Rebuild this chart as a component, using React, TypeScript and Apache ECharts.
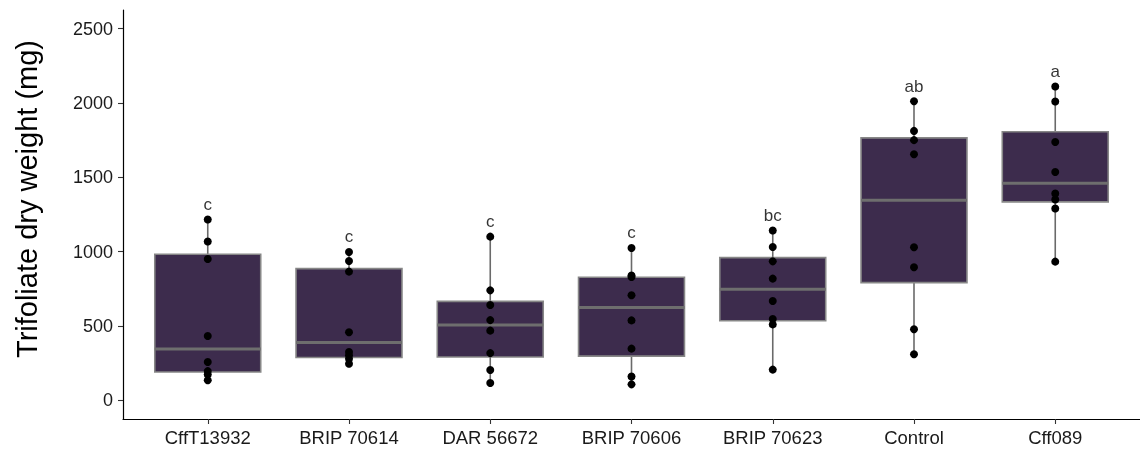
import React, { useEffect, useRef } from "react";
import * as echarts from "echarts";

const categories = ["CffT13932", "BRIP 70614", "DAR 56672", "BRIP 70606", "BRIP 70623", "Control", "Cff089"];
const letters = ["c", "c", "c", "c", "bc", "ab", "a"];
const pointsCffT13932 = [135, 175, 197, 258, 433, 951, 1068, 1216];
const pointsBRIP70614 = [247, 280, 303, 325, 458, 866, 937, 998];
const pointsDAR56672 = [117, 204, 318, 469, 540, 641, 740, 1101];
const pointsBRIP70606 = [108, 161, 348, 538, 707, 830, 840, 1025];
const pointsBRIP70623 = [207, 511, 547, 668, 819, 935, 1032, 1142];
const pointsControl = [310, 478, 895, 1030, 1655, 1750, 1812, 2012];
const pointsCff089 = [933, 1290, 1351, 1391, 1536, 1738, 2010, 2111];
const groupPoints = [pointsCffT13932, pointsBRIP70614, pointsDAR56672, pointsBRIP70606, pointsBRIP70623, pointsControl, pointsCff089];
const whiskerLow = [135, 247, 117, 108, 207, 310, 933];
const q1 = [191, 289, 292, 298, 536, 792, 1335];
const median = [345, 390, 507, 624, 747, 1346, 1460];
const q3 = [983, 886, 666, 828, 960, 1765, 1806];
const whiskerHigh = [1216, 998, 1101, 1025, 1142, 2012, 2111];
const yTicks = [0, 500, 1000, 1500, 2000, 2500];
const xTicks = categories.map((_, i) => i);
const yTitle = "Trifoliate dry weight (mg)";

const FONT = "Liberation Sans, Arial, sans-serif";

export default function App() {
  const ref = useRef<HTMLDivElement>(null);
  useEffect(() => {
    if (!ref.current) return;
    const chart = echarts.init(ref.current, undefined, { renderer: "svg" });
    const boxData = categories.map((_, i) => [i, whiskerLow[i], q1[i], median[i], q3[i], whiskerHigh[i]]);
    const scatterData: number[][] = [];
    groupPoints.forEach((arr, i) => arr.forEach((v) => scatterData.push([i, v])));
    const letterData = categories.map((_, i) => ({ value: [i, whiskerHigh[i]], letter: letters[i] }));

    chart.setOption({
      animation: false,
      grid: { left: 123, right: -6, top: 10, bottom: 31 },
      graphic: [
        {
          type: "text",
          x: 27,
          y: 199,
          rotation: Math.PI / 2,
          style: {
            text: yTitle,
            fontSize: 29,
            fontFamily: FONT,
            fill: "#000",
            align: "center",
            verticalAlign: "middle",
          },
        },
      ],
      xAxis: {
        type: "value",
        min: -0.6,
        max: 6.6,
        splitLine: { show: false },
        axisLine: { show: true, onZero: false, lineStyle: { color: "#000", width: 1.2 } },
        axisTick: { show: true, customValues: xTicks, length: 5, lineStyle: { color: "#333", width: 1.1 } },
        axisLabel: {
          customValues: xTicks,
          formatter: (v: number) => categories[Math.round(v)] ?? "",
          color: "#1a1a1a",
          fontSize: 18.5,
          fontFamily: FONT,
          margin: 9,
        },
      },
      yAxis: {
        type: "value",
        min: -125,
        max: 2625,
        splitLine: { show: false },
        axisLine: { show: true, onZero: false, lineStyle: { color: "#000", width: 1.2 } },
        axisTick: { show: true, customValues: yTicks, length: 5, lineStyle: { color: "#333", width: 1.1 } },
        axisLabel: {
          customValues: yTicks,
          formatter: (v: number) => String(v),
          color: "#1a1a1a",
          fontSize: 18,
          fontFamily: FONT,
          margin: 10,
        },
      },
      series: [
        {
          type: "custom",
          data: boxData,
          encode: { x: 0, y: [1, 2, 3, 4, 5] },
          z: 1,
          renderItem: (params: any, api: any) => {
            const x = api.value(0);
            const cx = api.coord([x, 0])[0];
            const loY = api.coord([x, api.value(1)])[1];
            const q1Y = api.coord([x, api.value(2)])[1];
            const medY = api.coord([x, api.value(3)])[1];
            const q3Y = api.coord([x, api.value(4)])[1];
            const hiY = api.coord([x, api.value(5)])[1];
            const left = api.coord([x - 0.375, 0])[0];
            const right = api.coord([x + 0.375, 0])[0];
            const wStyle = { stroke: "#6a6a6a", lineWidth: 1.6 };
            return {
              type: "group",
              children: [
                { type: "line", shape: { x1: cx, y1: hiY, x2: cx, y2: q3Y }, style: wStyle },
                { type: "line", shape: { x1: cx, y1: q1Y, x2: cx, y2: loY }, style: wStyle },
                {
                  type: "rect",
                  shape: { x: left, y: q3Y, width: right - left, height: q1Y - q3Y },
                  style: { fill: "#3d2c4d", stroke: "#878787", lineWidth: 1.6 },
                },
                { type: "line", shape: { x1: left, y1: medY, x2: right, y2: medY }, style: { stroke: "#6e6e6e", lineWidth: 3 } },
              ],
            };
          },
        },
        {
          type: "scatter",
          data: scatterData,
          symbol: "circle",
          symbolSize: 8,
          itemStyle: { color: "#000", opacity: 1 },
          z: 3,
        },
        {
          type: "scatter",
          data: letterData,
          symbolSize: 0,
          z: 4,
          label: {
            show: true,
            position: "inside",
            offset: [0, -15],
            formatter: (p: any) => p.data.letter,
            fontSize: 17,
            fontFamily: FONT,
            color: "#000",
          },
        },
      ],
    });
    return () => chart.dispose();
  }, []);
  return <div ref={ref} style={{ position: "fixed", left: 0, top: 0, width: 1140, height: 450 }} />;
}
